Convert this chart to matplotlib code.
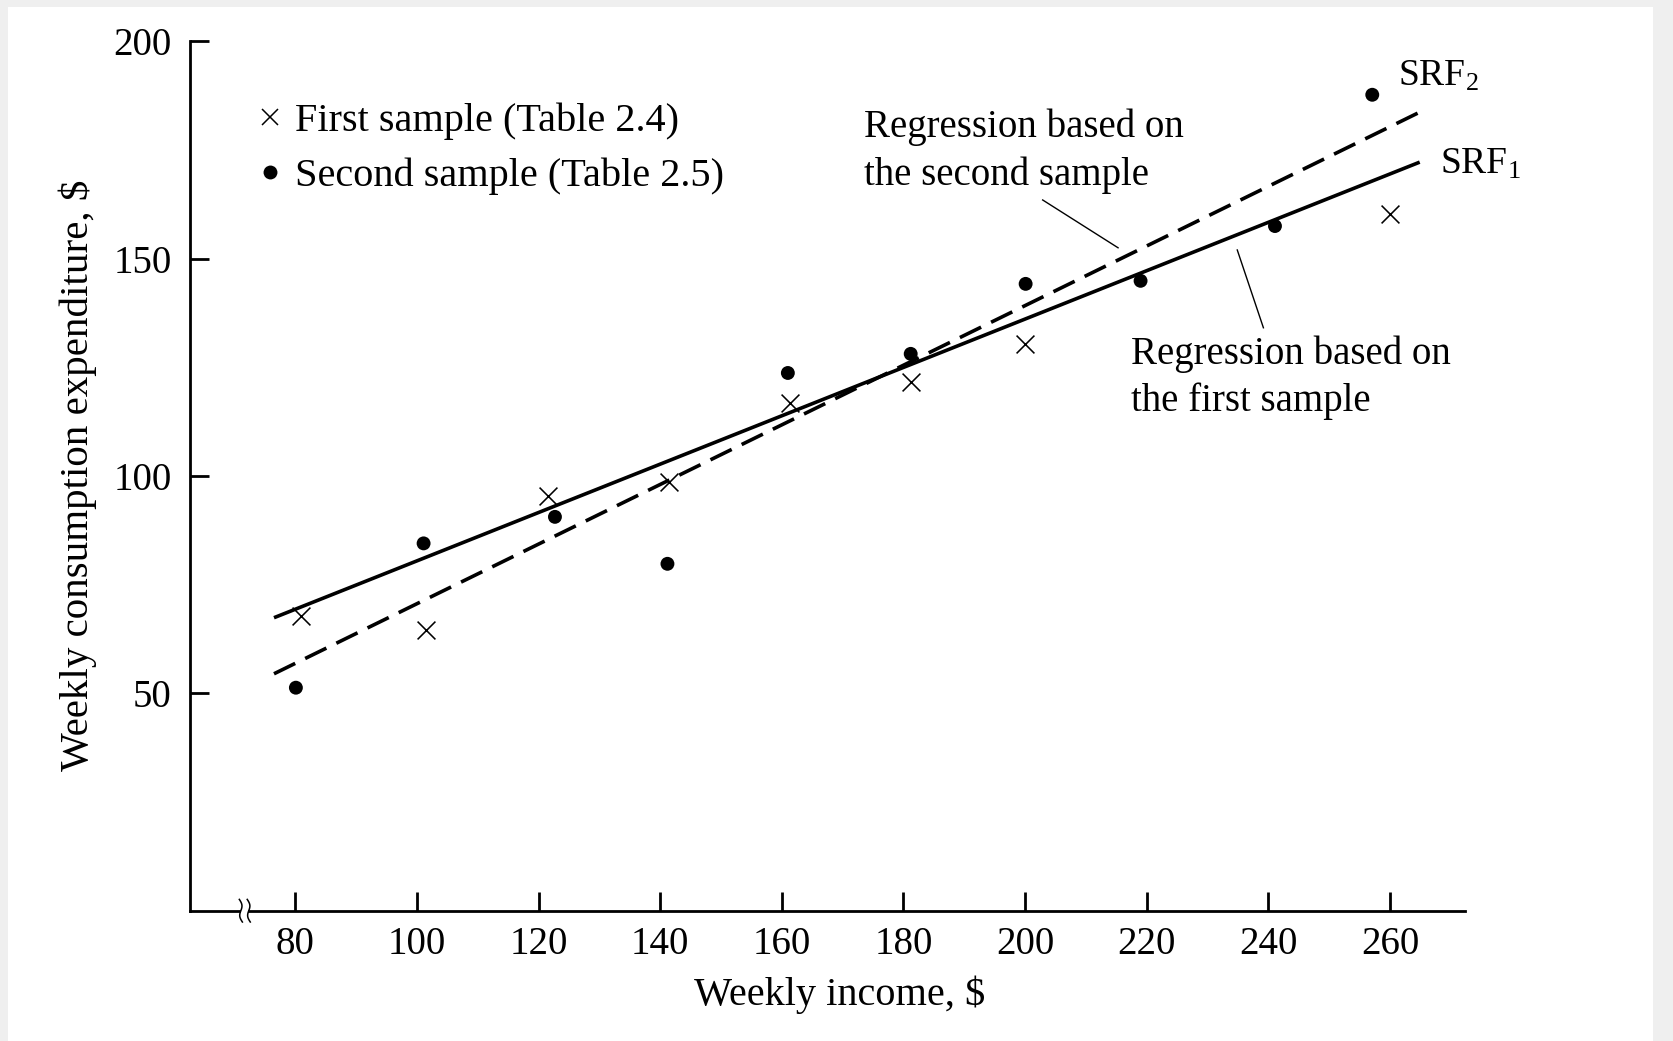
import numpy as np
import matplotlib
matplotlib.use("Agg")
import matplotlib.pyplot as plt
from matplotlib.patches import Rectangle
from matplotlib.lines import Line2D
import matplotlib.transforms as mtransforms

plt.rcParams['font.family'] = ['Liberation Serif', 'DejaVu Serif']
plt.rcParams['mathtext.fontset'] = 'custom'
plt.rcParams['mathtext.rm'] = 'Liberation Serif'
plt.rcParams['mathtext.it'] = 'Liberation Serif:italic'
plt.rcParams['lines.scale_dashes'] = False

# ---- data ----
first_x = [81.0, 101.5, 121.5, 141.5, 161.3, 181.2, 200.0, 260.0]
first_y = [67.7, 64.6, 95.5, 98.7, 116.8, 121.7, 130.3, 160.3]

second_x = [80.1, 101.1, 122.7, 141.2, 161.0, 181.2, 200.1, 219.0, 241.1, 257.1]
second_y = [51.3, 84.5, 90.6, 79.8, 123.7, 128.1, 144.2, 144.9, 157.5, 187.7]

line_x = [76.5, 264.9]
srf1_y = [67.4, 172.2]
srf2_y = [54.5, 183.7]

x_ticks = [80, 100, 120, 140, 160, 180, 200, 220, 240, 260]
y_ticks = [50, 100, 150, 200]

W, H = 1674, 1041
fig = plt.figure(figsize=(W / 100, H / 100), dpi=100)
fig.patch.set_facecolor('#efefef')
fig.add_artist(Rectangle((8.5 / W, 0), (1653 - 8.5) / W, (H - 6.5) / H,
                         transform=fig.transFigure, facecolor='white',
                         edgecolor='none', zorder=-10))

ax = fig.add_axes([190.5 / W, (H - 910.7) / H, 1274.2 / W, 869.4 / H])
ax.set_facecolor('none')
ax.set_xlim(62.77, 272.3)
ax.set_ylim(0, 200)

for s in ['top', 'right']:
    ax.spines[s].set_visible(False)
for s in ['left', 'bottom']:
    ax.spines[s].set_linewidth(2.0)
    ax.spines[s].set_capstyle('projecting')

ax.set_xticks(x_ticks)
ax.set_xticklabels([str(v) for v in x_ticks])
ax.set_yticks(y_ticks)
ax.set_yticklabels([str(v) for v in y_ticks])
ax.tick_params(axis='both', direction='in', length=13.7, width=2.0,
               labelsize=28, colors='black')
ax.tick_params(axis='x', pad=11)
ax.tick_params(axis='y', pad=13.5)

# regression lines
ax.plot(line_x, srf1_y, color='black', lw=2.6, solid_capstyle='butt')
ax.plot(line_x, srf2_y, color='black', lw=2.6, dashes=(17, 8),
        dash_capstyle='butt')

# sample points
ax.scatter(first_x, first_y, marker='x', s=165, linewidths=1.15,
           color='black', zorder=3)
ax.scatter(second_x, second_y, marker='o', s=100, color='black',
           edgecolors='none', zorder=3)

# legend
handles = [Line2D([], [], linestyle='none', marker='x', markersize=12,
                  markeredgewidth=1.1, color='black'),
           Line2D([], [], linestyle='none', marker='o', markersize=10,
                  markeredgewidth=0, color='black')]
ax.legend(handles, ['First sample (Table 2.4)', 'Second sample (Table 2.5)'],
          loc='upper left', bbox_to_anchor=(258.5 / W, 1 - 103.0 / H),
          bbox_transform=fig.transFigure, frameon=False, fontsize=29,
          handlelength=0.56, handletextpad=0.34, borderpad=0,
          borderaxespad=0, labelspacing=0.43, numpoints=1)

# annotations
ax.text(173.6, 174.7, "Regression based on\nthe second sample",
        fontsize=28, ha='left', va='center', linespacing=1.35)
ax.plot([202.9, 215.3], [163.5, 152.5], color='black', lw=1.0)
ax.text(217.5, 122.6, "Regression based on\nthe first sample",
        fontsize=28, ha='left', va='center', linespacing=1.35)
ax.plot([234.9, 239.2], [152.0, 134.1], color='black', lw=1.0)

ax.text(261.3, 189.7, r"SRF$_\mathregular{2}$", fontsize=27,
        ha='left', va='baseline')
ax.text(268.2, 169.5, r"SRF$_\mathregular{1}$", fontsize=27,
        ha='left', va='baseline')

# axis labels
ax.set_xlabel("Weekly income, $", fontsize=29)
ax.xaxis.set_label_coords(0.5097, -0.097)
ax.xaxis.label.set_va('center')
ax.set_ylabel("Weekly consumption expenditure, $", fontsize=29.5)
ax.yaxis.set_label_coords(-0.0885, 0.501)
ax.yaxis.label.set_va('center')

# axis break mark on the x axis
break_x = 71.7
trans = mtransforms.blended_transform_factory(ax.transData, ax.transAxes)
ax.add_patch(Rectangle((break_x - 0.6, -0.006), 1.2, 0.012, transform=trans,
                       facecolor='white', edgecolor='none', zorder=5,
                       clip_on=False))
t = np.linspace(-1, 1, 40)
for dx in (-0.65, 0.65):
    ax.plot(break_x + dx + 0.3 * np.sin(np.pi * t) - 0.25 * t,
            0.013 * t, transform=trans, color='black', lw=1.1,
            clip_on=False, zorder=6)

fig.savefig("out.png", dpi=100, facecolor=fig.get_facecolor())
